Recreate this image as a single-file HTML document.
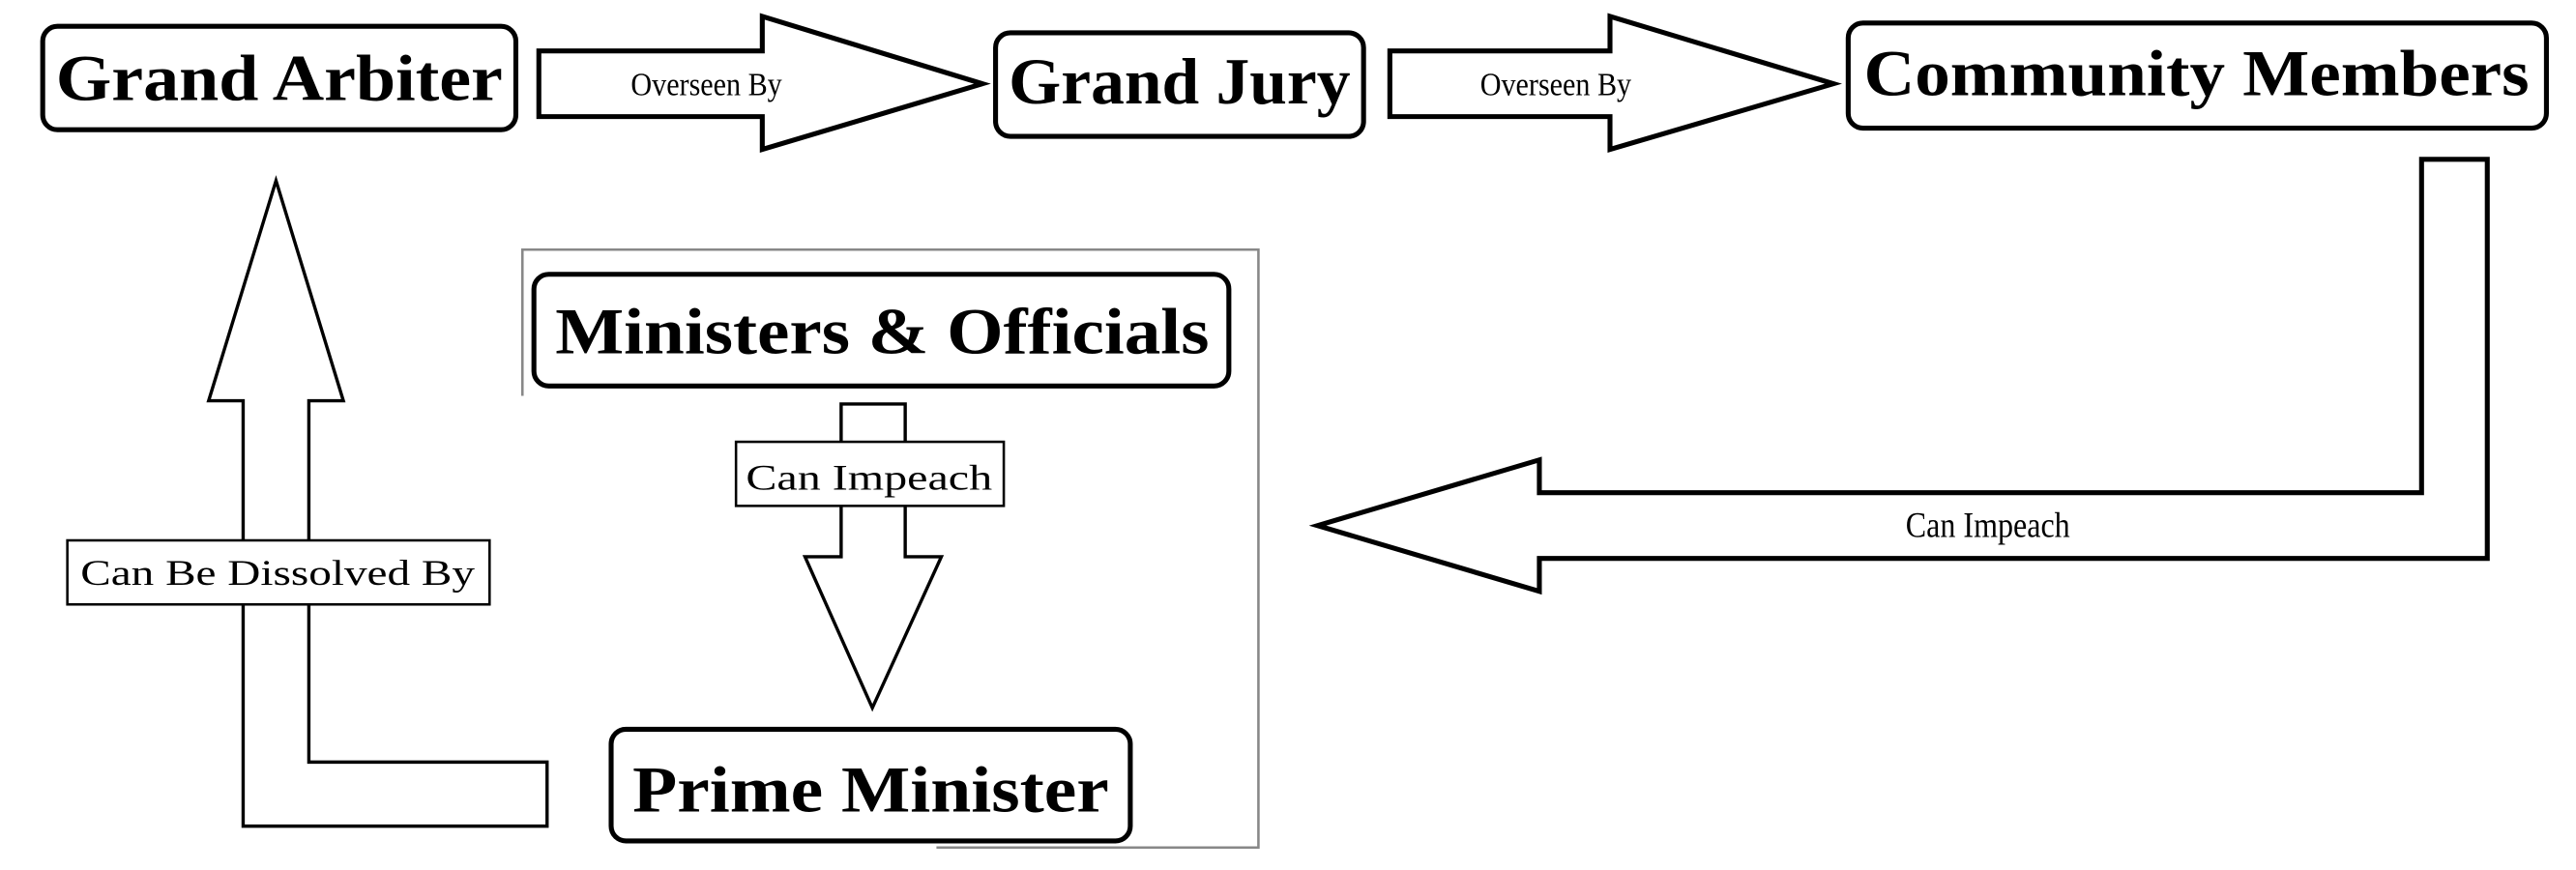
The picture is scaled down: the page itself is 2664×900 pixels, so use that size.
<!DOCTYPE html>
<html><head><meta charset="utf-8"><style>
html,body{margin:0;padding:0;background:#fff;width:2664px;height:900px;overflow:hidden}
svg{display:block}
text{font-family:"Liberation Serif",serif;fill:#000}
</style></head><body>
<svg width="2664" height="900" viewBox="0 0 1568 529.7" preserveAspectRatio="none" xmlns="http://www.w3.org/2000/svg">
<rect width="1568" height="530" fill="#fff"/>
<!-- gray frame -->
<polyline points="318,241 318,152 766,152 766,516 570,516" fill="none" stroke="#888" stroke-width="1.5"/>
<!-- boxes -->
<rect x="26" y="16" width="288" height="63" rx="9" fill="#fff" stroke="#000" stroke-width="3"/>
<text x="170" y="61" font-size="40" text-anchor="middle" font-weight="bold" textLength="272" lengthAdjust="spacingAndGlyphs">Grand Arbiter</text>
<rect x="606" y="20" width="224" height="63" rx="9" fill="#fff" stroke="#000" stroke-width="3"/>
<text x="718" y="63" font-size="40" text-anchor="middle" font-weight="bold" textLength="208" lengthAdjust="spacingAndGlyphs">Grand Jury</text>
<rect x="1125" y="14" width="425" height="64" rx="9" fill="#fff" stroke="#000" stroke-width="3"/>
<text x="1337" y="58" font-size="40" text-anchor="middle" font-weight="bold" textLength="405" lengthAdjust="spacingAndGlyphs">Community Members</text>
<rect x="325" y="167" width="423" height="68" rx="9" fill="#fff" stroke="#000" stroke-width="3"/>
<text x="537" y="215" font-size="40" text-anchor="middle" font-weight="bold" textLength="398" lengthAdjust="spacingAndGlyphs">Ministers &amp; Officials</text>
<rect x="372" y="444" width="316" height="68" rx="9" fill="#fff" stroke="#000" stroke-width="3"/>
<text x="530" y="494" font-size="40" text-anchor="middle" font-weight="bold" textLength="290" lengthAdjust="spacingAndGlyphs">Prime Minister</text>
<!-- top arrows -->
<polygon points="328,31 464,31 464,10 598,51 464,91 464,71 328,71" fill="#fff" stroke="#000" stroke-width="3"/>
<text x="430" y="58" font-size="20" text-anchor="middle" textLength="92" lengthAdjust="spacingAndGlyphs">Overseen By</text>
<polygon points="846,31 980,31 980,10 1116,51 980,91 980,71 846,71" fill="#fff" stroke="#000" stroke-width="3"/>
<text x="947" y="58" font-size="20" text-anchor="middle" textLength="92" lengthAdjust="spacingAndGlyphs">Overseen By</text>
<!-- right L arrow -->
<polygon points="1474,97 1514,97 1514,340 937,340 937,360 802,320 937,280 937,300 1474,300" fill="#fff" stroke="#000" stroke-width="3"/>
<text x="1210" y="327" font-size="22" text-anchor="middle" textLength="100" lengthAdjust="spacingAndGlyphs">Can Impeach</text>
<!-- down arrow -->
<polygon points="512,246 551,246 551,339 573,339 531,431 490,339 512,339" fill="#fff" stroke="#000" stroke-width="2"/>
<rect x="448" y="269" width="163" height="39" fill="#fff" stroke="#000" stroke-width="1.5"/>
<text x="529" y="298" font-size="22" text-anchor="middle" textLength="150" lengthAdjust="spacingAndGlyphs">Can Impeach</text>
<!-- left up arrow -->
<polygon points="168,110 209,244 188,244 188,464 333,464 333,503 148,503 148,244 127,244" fill="#fff" stroke="#000" stroke-width="2"/>
<rect x="41" y="329" width="257" height="39" fill="#fff" stroke="#000" stroke-width="1.5"/>
<text x="169" y="356" font-size="22" text-anchor="middle" textLength="240" lengthAdjust="spacingAndGlyphs">Can Be Dissolved By</text>
</svg>
</body></html>
